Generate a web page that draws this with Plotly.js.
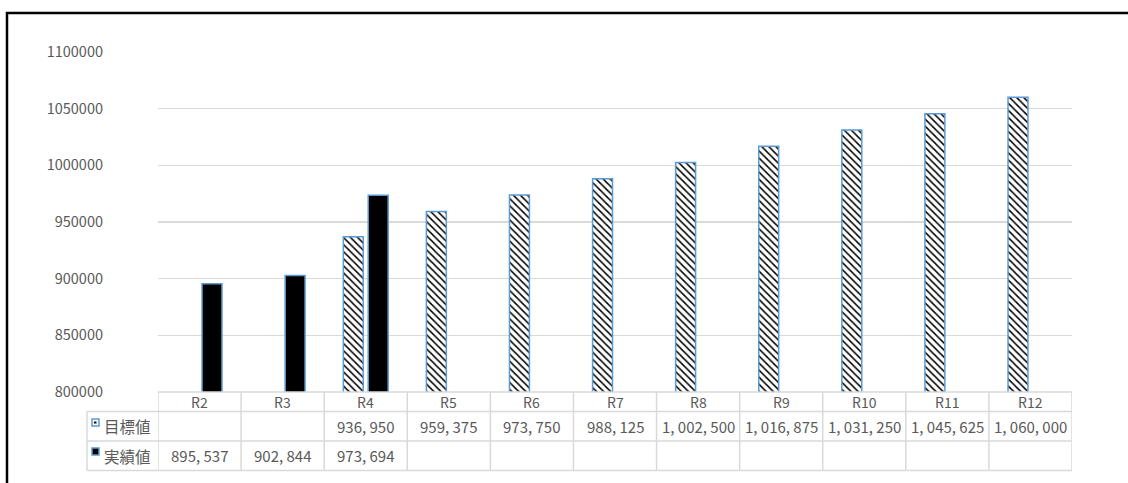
<!DOCTYPE html>
<html>
<head>
<meta charset="utf-8">
<script src="https://cdn.plot.ly/plotly-3.0.1.min.js"></script>
<style>
html,body{margin:0;padding:0;background:#fff;}
#chart{width:1128px;height:483px;}
</style>
</head>
<body>
<div id="chart"></div>
<script>
const categories = ['R2','R3','R4','R5','R6','R7','R8','R9','R10','R11','R12'];
const targetName = '目標値';
const actualName = '実績値';
const targetValues = [null, null, 936950, 959375, 973750, 988125, 1002500, 1016875, 1031250, 1045625, 1060000];
const actualValues = [895537, 902844, 973694, null, null, null, null, null, null, null, null];
const yTicks = [800000, 850000, 900000, 950000, 1000000, 1050000, 1100000];

const W = 1128, H = 483;
const L = 158, R = 1072, T = 52, B = 392;
const pw = R - L, ph = B - T;
const px = x => (x - L) / pw;
const py = y => (B - y) / ph;

const TEXT = '#595959';
const GRID = '#d9d9d9';
const BLUE = '#5b9bd5';
const FONT = '"Noto Sans CJK JP", "Noto Sans", sans-serif';

function fmt(v){
  if (v === null || v === undefined) return '';
  return v.toLocaleString('en-US').replace(/,/g, ', ');
}

const traces = [
  {
    type: 'bar', name: targetName, x: categories, y: targetValues,
    marker: {
      color: '#ffffff',
      line: {color: BLUE, width: 1.5},
      pattern: {shape: '\\', fgcolor: '#000000', bgcolor: '#ffffff', size: 5, solidity: 0.3}
    },
    hoverinfo: 'none'
  },
  {
    type: 'bar', name: actualName, x: categories, y: actualValues,
    marker: {color: '#000000', line: {color: BLUE, width: 1.5}},
    hoverinfo: 'none'
  }
];

const shapes = [];
const annotations = [];
const n = categories.length;

const rowY = [392, 411.5, 441, 470.5];
for (let i = 0; i <= n; i++) {
  shapes.push({type:'line', xref:'x', yref:'paper', x0:i-0.5, x1:i-0.5, y0:py(rowY[0]), y1:py(rowY[3]),
    line:{color:GRID, width:1.5}, layer:'below'});
}
shapes.push({type:'line', xref:'paper', yref:'paper', x0:px(87), x1:px(87), y0:py(rowY[1]), y1:py(rowY[3]), line:{color:GRID, width:1.5}});
shapes.push({type:'line', xref:'paper', yref:'paper', x0:0, x1:1, y0:py(rowY[0]), y1:py(rowY[0]), line:{color:GRID, width:1.5}});
for (let r = 1; r < 4; r++) {
  shapes.push({type:'line', xref:'paper', yref:'paper', x0:px(87), x1:1, y0:py(rowY[r]), y1:py(rowY[r]), line:{color:GRID, width:1.5}});
}
// legend keys
shapes.push({type:'rect', xref:'paper', yref:'paper', x0:px(92), x1:px(99), y0:py(426), y1:py(419), line:{color:BLUE, width:1.5}, fillcolor:'#ffffff'});
shapes.push({type:'rect', xref:'paper', yref:'paper', x0:px(94), x1:px(96.5), y0:py(423.5), y1:py(421.5), line:{width:0}, fillcolor:'#000000'});
shapes.push({type:'rect', xref:'paper', yref:'paper', x0:px(92), x1:px(99), y0:py(455), y1:py(448), line:{color:BLUE, width:1.5}, fillcolor:'#000000'});
// outer frame
shapes.push({type:'rect', xref:'paper', yref:'paper', x0:px(7), x1:px(1140), y0:py(500), y1:py(13), line:{color:'#000000', width:2.5}, fillcolor:'rgba(0,0,0,0)'});

const rowCenters = [(rowY[0]+rowY[1])/2+0.5, (rowY[1]+rowY[2])/2, (rowY[2]+rowY[3])/2];
categories.forEach((c, i) => {
  annotations.push({xref:'x', yref:'paper', x:i, y:py(rowCenters[0]), text:c, showarrow:false,
    xanchor:'center', yanchor:'middle', font:{family:FONT, size:14, color:TEXT}});
  annotations.push({xref:'x', yref:'paper', x:i, y:py(rowCenters[1]), text:fmt(targetValues[i]), showarrow:false,
    xanchor:'center', yanchor:'middle', font:{family:FONT, size:15, color:TEXT}});
  annotations.push({xref:'x', yref:'paper', x:i, y:py(rowCenters[2]), text:fmt(actualValues[i]), showarrow:false,
    xanchor:'center', yanchor:'middle', font:{family:FONT, size:15, color:TEXT}});
});
annotations.push({xref:'paper', yref:'paper', x:px(102), y:py(rowCenters[1]), text:targetName, showarrow:false,
  xanchor:'left', yanchor:'middle', font:{family:FONT, size:15.5, color:TEXT}});
annotations.push({xref:'paper', yref:'paper', x:px(102), y:py(rowCenters[2]), text:actualName, showarrow:false,
  xanchor:'left', yanchor:'middle', font:{family:FONT, size:15.5, color:TEXT}});

const layout = {
  width: W, height: H,
  margin: {l: L, r: W - R, t: T, b: H - B, pad: 0},
  paper_bgcolor: '#ffffff', plot_bgcolor: '#ffffff',
  showlegend: false,
  barmode: 'group', bargap: 0.4, bargroupgap: 0.2,
  xaxis: {
    type: 'category', range: [-0.5, n - 0.5], showticklabels: false, ticks: '',
    showgrid: false, zeroline: false, showline: false, fixedrange: true
  },
  yaxis: {
    range: [800000, 1100000], tickvals: yTicks, ticktext: yTicks.map(String),
    showgrid: true, gridcolor: GRID, gridwidth: 1.5, zeroline: false, showline: false,
    ticks: '', ticklabelstandoff: 54,
    tickfont: {family: FONT, size: 14.5, color: TEXT}, fixedrange: true
  },
  shapes: shapes,
  annotations: annotations
};

Plotly.newPlot('chart', traces, layout, {displayModeBar: false, staticPlot: true});
</script>
</body>
</html>
